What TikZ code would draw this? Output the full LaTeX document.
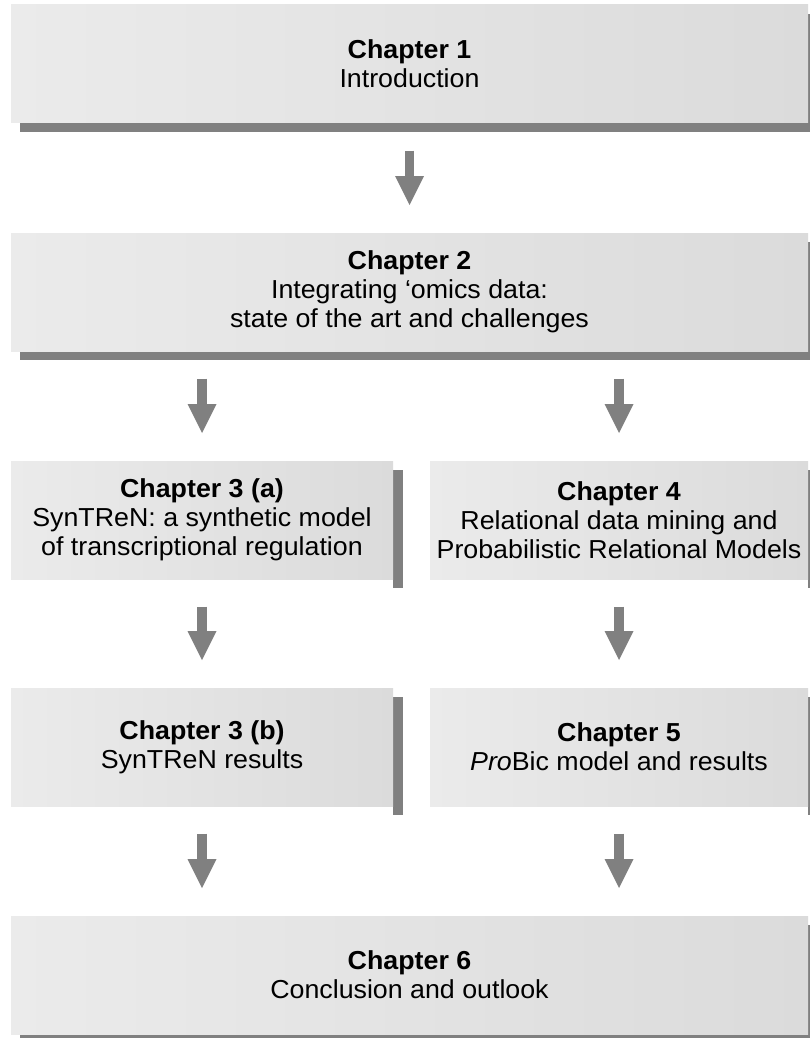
\documentclass[tikz,border=0pt]{standalone}
\usepackage{fontspec}
\setmainfont[FakeStretch=1.03]{Liberation Sans}
\usetikzlibrary{arrows.meta,shadows,backgrounds}
\definecolor{boxlight}{HTML}{EBEBEB}
\definecolor{boxdark}{HTML}{DBDBDB}
\definecolor{shadowgray}{HTML}{808080}
\begin{document}
\begin{tikzpicture}[x=1pt,y=-1pt,
  chapbox/.style={inner sep=0pt, outer sep=0pt, minimum height=118pt,
    left color=boxlight, right color=boxdark, align=center,
    font=\fontsize{26}{29}\selectfont},
  widebox/.style={chapbox, minimum width=797pt,
    drop shadow={shadow xshift=9pt, shadow yshift=-9pt, fill=shadowgray, opacity=1}},
  halfbox/.style={chapbox, minimum width=#1},
  sidebar/.style={fill=shadowgray},
  flow/.style={draw=shadowgray, line width=9.5pt,
    -{Triangle[width=29pt,length=29pt,line width=0pt]},
    shorten <=27.5pt, shorten >=28pt}]
\useasboundingbox (0,0) rectangle (809,1038);

% chapter boxes
\node[widebox] (c1) at (409.5,64) {\textbf{Chapter 1}\\Introduction};
\node[widebox] (c2) at (409.5,292) {\textbf{Chapter 2}\\Integrating ‘omics data:\\state of the art and challenges};
\node[halfbox=382pt] (c3a) at (202,520) {\textbf{Chapter 3 (a)}\\SynTReN: a synthetic model\\of transcriptional regulation};
\node[halfbox=378pt] (c4) at (619,520) {\textbf{Chapter 4}\\Relational data mining and\\Probabilistic Relational Models};
\node[halfbox=382pt] (c3b) at (202,747) {\textbf{Chapter 3 (b)}\\SynTReN results};
\node[halfbox=378pt] (c5) at (619,747) {\textbf{Chapter 5}\\\textit{Pro}Bic model and results};
\node[widebox] (c6) at (409.5,975) {\textbf{Chapter 6}\\Conclusion and outlook};

% side shadows of the column boxes
\begin{scope}[on background layer]
  \foreach \b in {c3a,c4,c3b,c5}
    \fill[sidebar] ([yshift=-9pt]\b.north east) rectangle ([xshift=10pt,yshift=-9pt]\b.south east);
\end{scope}

% reading order
\draw[flow] (c1) -- (c2);
\draw[flow] (c2.south -| c3a) -- (c3a);
\draw[flow] (c2.south -| c4) -- (c4);
\draw[flow] (c3a) -- (c3b);
\draw[flow] (c4) -- (c5);
\draw[flow] (c3b) -- (c3b |- c6.north);
\draw[flow] (c5) -- (c5 |- c6.north);
\end{tikzpicture}
\end{document}
